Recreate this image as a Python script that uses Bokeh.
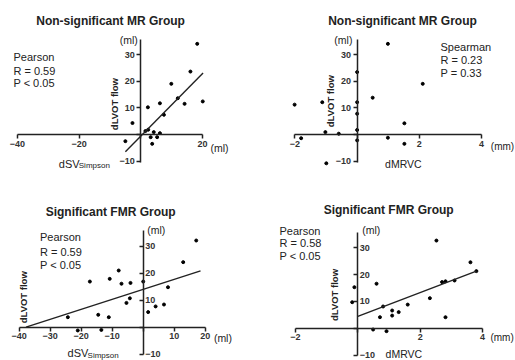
import math
from bokeh.plotting import figure
from bokeh.models import Label, FixedTicker
from bokeh.layouts import gridplot
from bokeh.embed import file_html
from bokeh.resources import INLINE

FONT = "Liberation Sans"
INK = "#222222"

# ---------------- data ----------------
titles = ["Non-significant MR Group", "Non-significant MR Group",
          "Significant FMR Group", "Significant FMR Group"]

# Panel 1: Non-significant MR, dSV(Simpson) vs dLVOT flow
x1 = [18.3, 16.1, 9.9, 12.0, 14.2, 20.1, 2.3, 6.2, 7.5, -2.7, -5.0, 1.5, 2.4, 4.2, 6.2, 3.2, 5.3, 3.7]
y1 = [34.0, 23.6, 19.0, 13.6, 11.5, 12.4, 10.2, 11.7, 7.4, 4.3, -2.5, 1.3, 1.8, 0.9, 0.5, -1.0, -1.0, -3.5]
fit1 = (1.17, -0.6, -5.0, 20.2)          # slope, intercept, x from, x to
stats1 = ["Pearson", "R = 0.59", "P < 0.05"]

# Panel 2: Non-significant MR, dMRVC vs dLVOT flow
x2 = [0.99, 2.11, 0.50, -2.01, -1.12, 1.52, -1.02, -0.59, -1.80, 0.99, 1.52, -0.99, 0.0, 0.0, 0.0, 0.0, 0.0]
y2 = [34.0, 19.0, 13.8, 11.2, 12.1, 4.2, 0.9, 0.3, -1.4, -1.2, -3.5, -10.8, 23.4, 12.1, 7.8, 1.7, -2.2]
stats2 = ["Spearman", "R = 0.23", "P = 0.33"]

# Panel 3: Significant FMR, dSV(Simpson) vs dLVOT flow
x3 = [17.1, 12.9, -7.9, -17.2, -10.8, -4.1, -7.0, 0.0, 8.0, -4.3, -5.4, 4.0, 6.7, 1.6, -24.3, -14.5, -11.1, -13.5, -21.1]
y3 = [32.1, 24.1, 21.0, 16.9, 17.9, 16.4, 16.1, 16.9, 14.8, 10.7, 9.0, 7.7, 8.4, 5.6, 3.7, 4.6, 3.7, -1.0, -1.2]
fit3 = (0.37, 14.0, -37.8, 18.5)
stats3 = ["Pearson", "R = 0.59", "P < 0.05"]

# Panel 4: Significant FMR, dMRVC vs dLVOT flow
x4 = [2.52, 3.61, 3.80, 3.10, 2.81, 2.70, 0.60, -0.11, -0.18, 0.81, 1.60, 2.31, 1.10, 1.10, 1.31, 0.71, 2.81, 0.49, 0.92]
y4 = [32.7, 24.6, 21.3, 17.8, 17.5, 17.2, 16.6, 15.3, 9.7, 8.1, 8.8, 11.2, 6.6, 4.7, 6.0, 4.1, 4.1, -0.5, -1.1]
fit4 = (4.45, 4.4, 0.0, 3.8)
stats4 = ["Pearson", "R = 0.58", "P < 0.05"]

xticks_sv = [-40, -20, 0, 20]
xticks_sv3 = [-40, -30, -20, -10, 0, 10, 20]
xticks_mrvc = [-2, 0, 2, 4]
yticks = [-10, 0, 10, 20, 30]


def label(p, x, y, text, size="11px", bold=False, align="left", angle=0.0,
          baseline="middle", x_offset=0, y_offset=0, color=INK):
    p.add_layout(Label(x=x, y=y, text=text, text_font=FONT, text_font_size=size,
                       text_font_style="bold" if bold else "normal",
                       text_align=align, text_baseline=baseline, angle=angle,
                       x_offset=x_offset, y_offset=y_offset, text_color=color))


def panel(xs, ys, xr, yr, w, h, xticks, xbounds, ybounds, yright):
    p = figure(width=w, height=h, x_range=xr, y_range=yr,
               output_backend="svg", toolbar_location=None,
               y_axis_location="right" if yright else "left",
               min_border=0, min_border_left=0, min_border_right=0,
               min_border_top=0, min_border_bottom=0)
    p.outline_line_color = None
    p.grid.visible = False
    p.background_fill_color = "white"
    for ax in (p.xaxis[0], p.yaxis[0]):
        ax.fixed_location = 0
        ax.axis_line_color = INK
        ax.axis_line_width = 1.5
        ax.major_tick_line_color = INK
        ax.major_tick_line_width = 1.5
        ax.minor_tick_line_color = None
        ax.major_label_text_font = FONT
        ax.major_label_text_font_size = "9px"
        ax.major_label_text_font_style = "bold"
        ax.major_label_text_color = "#333333"
        ax.major_label_standoff = 2
        ax.major_label_overrides = {0: ""}
    p.xaxis[0].ticker = FixedTicker(ticks=xticks)
    p.xaxis[0].bounds = xbounds
    p.xaxis[0].major_tick_out = 4
    p.xaxis[0].major_tick_in = 0
    p.yaxis[0].ticker = FixedTicker(ticks=yticks)
    p.yaxis[0].bounds = ybounds
    if yright:
        p.yaxis[0].major_tick_out = 0
        p.yaxis[0].major_tick_in = 4
    else:
        p.yaxis[0].major_tick_out = 4
        p.yaxis[0].major_tick_in = 0
    p.scatter(xs, ys, size=3, color="black", line_color="black")
    return p


def fitline(p, fit):
    s, b, x0, x1_ = fit
    p.line([x0, x1_], [s * x0 + b, s * x1_ + b], line_color=INK, line_width=1.4)


WL, WR = 257, 258
HT, HB = 180, 180
ROT = math.pi / 2

# ---- panel 1
p1 = panel(x1, y1, (-45.5, 37.85), (-17.25, 50.25), WL, HT, xticks_sv, (-40, 20), (-10.5, 35.6), False)
fitline(p1, fit1)
label(p1, -9.8, 42.4, titles[0], size="12px", bold=True, align="center")
for i, t in enumerate(stats1):
    label(p1, -41.3, [28.9, 24.0, 19.5][i], t)
label(p1, -1.0, 35.4, "(ml)", size="10.5px", align="right")
label(p1, 22.6, -4.9, "(ml)", size="10.5px")
label(p1, -26.6, -11.0, "dSV", size="11px")
label(p1, -26.6, -11.0, "Simpson", size="8px", x_offset=20, y_offset=-2)
label(p1, -8.5, 11.4, "dLVOT flow", size="9.5px", bold=True, align="center", angle=ROT)

# ---- panel 2
p2 = panel(x2, y2, (-3.203, 5.093), (-17.25, 50.25), WR, HT, xticks_mrvc, (-2, 4), (-10.5, 35.6), False)
label(p2, 1.46, 42.4, titles[1], size="12px", bold=True, align="center")
for i, t in enumerate(stats2):
    label(p2, 2.68, [32.7, 28.0, 23.2][i], t)
label(p2, -0.15, 35.6, "(ml)", size="10.5px", align="right")
label(p2, 4.3, -4.5, "(mm)", size="10px")
label(p2, 0.9, -10.9, "dMRVC", size="10.5px")
label(p2, -0.86, 12.5, "dLVOT flow", size="9.5px", bold=True, align="center", angle=ROT)

# ---- panel 3
p3 = panel(x3, y3, (-46.03, 36.87), (-12.33, 54.33), WL, HB, xticks_sv3, (-40, 20), (-10, 35.8), True)
fitline(p3, fit3)
label(p3, -10.5, 42.6, titles[2], size="12px", bold=True, align="center")
for i, t in enumerate(stats3):
    label(p3, -33.3, [33.3, 28.0, 22.9][i], t)
label(p3, 1.3, 36.1, "(ml)", size="10.5px")
label(p3, 22.8, -3.9, "(ml)", size="10.5px")
label(p3, -24.4, -9.7, "dSV", size="11px")
label(p3, -24.4, -9.7, "Simpson", size="8px", x_offset=20, y_offset=-2)
label(p3, -38.6, 11.1, "dLVOT flow", size="9.5px", bold=True, align="center", angle=ROT)

# ---- panel 4
p4 = panel(x4, y4, (-3.215, 5.054), (-12.05, 55.11), WR, HB, xticks_mrvc, (-2, 4), (-10, 35.8), True)
fitline(p4, fit4)
label(p4, 0.99, 44.0, titles[3], size="12px", bold=True, align="center")
for i, t in enumerate(stats4):
    label(p4, -2.51, [36.2, 31.7, 26.8][i], t)
label(p4, 0.14, 36.5, "(ml)", size="10.5px")
label(p4, 4.25, -3.6, "(mm)", size="10px")
label(p4, 0.89, -9.7, "dMRVC", size="10.5px")
label(p4, -0.75, 12.4, "dLVOT flow", size="9.5px", bold=True, align="center", angle=ROT)

grid = gridplot([[p1, p2], [p3, p4]], toolbar_location=None)

open("out.html", "w").write(file_html(grid, INLINE))
